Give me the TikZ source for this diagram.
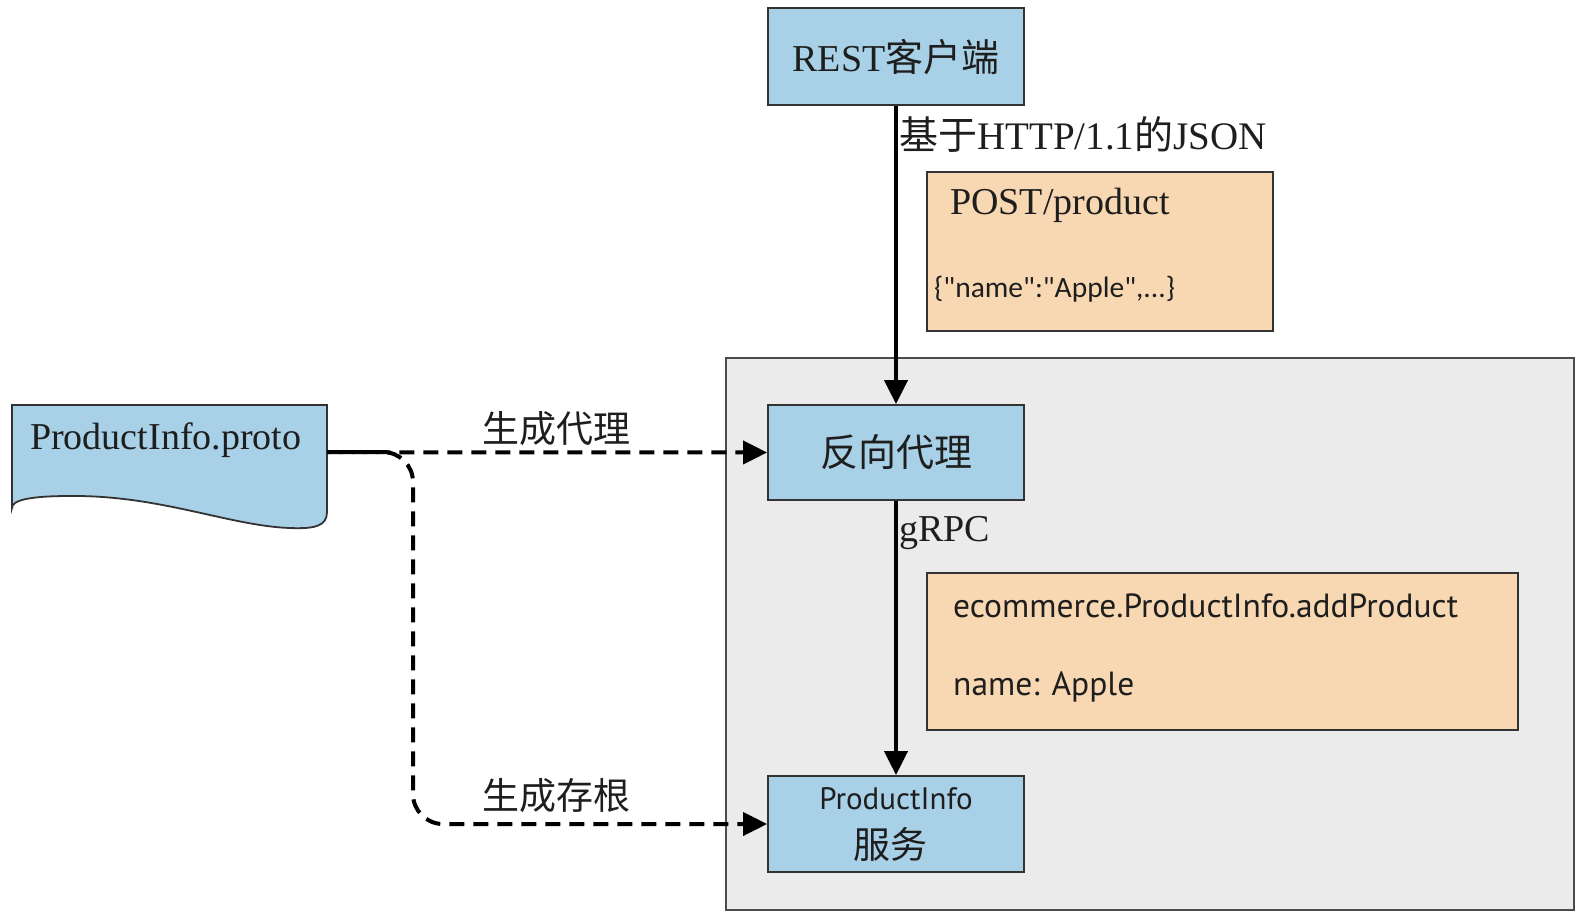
\documentclass[tikz,border=0pt]{standalone}
\usepackage{fontspec}
\setmainfont{Liberation Serif}
\newfontfamily\cjk{Noto Sans CJK SC}
\newfontfamily\sansf{PT Sans}
\newfontfamily\sansc{Carlito}
\usetikzlibrary{arrows.meta}
\definecolor{boxblue}{RGB}{168,208,230}
\definecolor{boxorange}{RGB}{248,216,178}
\definecolor{panelgray}{RGB}{235,235,235}
\definecolor{txt}{RGB}{30,30,30}
\tikzset{
  bluebox/.style={draw=black!80, line width=1.8pt, fill=boxblue, minimum width=256pt, minimum height=96pt, inner sep=0pt, text=txt},
  orangebox/.style={draw=black!80, line width=1.8pt, fill=boxorange, inner sep=0pt},
  bigtxt/.style={font=\fontsize{38}{44}\selectfont, text=txt, inner sep=0pt},
  sanstxt/.style={font=\sansf\fontsize{33.5}{38}\selectfont, text=txt, inner sep=0pt},
  arr/.style={line width=4pt, -{Triangle[length=24pt,width=23pt]}},
  dsh/.style={line width=4pt, dash pattern=on 15pt off 9pt, -{Triangle[length=24pt,width=23pt]}}
}
\begin{document}
\begin{tikzpicture}[x=1pt,y=-1pt]
\useasboundingbox (0,0) rectangle (1579,919);
% gray panel
\node[draw=black!70, line width=2pt, fill=panelgray, minimum width=848pt, minimum height=552pt, anchor=north west, inner sep=0pt] (panel) at (725,357) {};
% orange boxes
\node[orangebox, minimum width=346pt, minimum height=159pt, anchor=north west] (post) at (926,171) {};
\node[bigtxt, anchor=west] (postt) at (950,205) {POST/product};
\node[text=txt, inner sep=0pt, font=\sansc\fontsize{29.5}{34}\selectfont, anchor=west] (jsont) at (934,289) {\{\char"22 name\char"22 :\char"22 Apple\char"22 ,...\}};
\node[orangebox, minimum width=591pt, minimum height=157pt, anchor=north west] (ecom) at (926,572) {};
\node[sanstxt, anchor=west] (ecomt) at (953,606) {ecommerce.ProductInfo.addProduct};
\node[sanstxt, anchor=west] (namet) at (953,687) {name: Apple};
% blue boxes
\node[bluebox, minimum height=97pt] (rest) at (896,56.5) {\fontsize{38}{44}\selectfont REST{\cjk 客户端}};
\node[bluebox, minimum height=95pt] (proxy) at (896,452.5) {\fontsize{38}{44}\selectfont\cjk 反向代理};
\node[bluebox] (svc) at (896,824) {};
\node[text=txt, inner sep=0pt, font=\sansf\fontsize{31}{34}\selectfont] (svct1) at (896,799) {ProductInfo};
\node[text=txt, inner sep=0pt, font=\cjk\fontsize{37}{40}\selectfont] (svct2) at (890,844) {服务};
% proto document
\fill[boxblue, draw=black!80, line width=1.8pt] (12,405) -- (327,405) -- (327,512)
  .. controls (327,526) and (315,529) .. (290,528)
  .. controls (230,526) and (160,495) .. (70,496)
  .. controls (30,496) and (12,500) .. (12,508) -- cycle;
\node[minimum width=315pt, minimum height=94pt, anchor=north west, inner sep=0pt] (proto) at (12,405) {};
\node[bigtxt, anchor=west] (protot) at (30,440) {ProductInfo.proto};
% connectors
\draw[arr] (rest.south) -- (proxy.north);
\draw[arr] (proxy.south) -- (svc.north);
\coordinate (bend1) at (413,452);
\coordinate (bend2) at (413,824);
\draw[dsh] (proto.east) -- (proxy.west);
\draw[dsh, dash phase=12pt, rounded corners=30pt] (proto.east) -- (bend1) -- (bend2) -- (svc.west);
% labels
\node[bigtxt, font=\fontsize{39}{44}\selectfont, anchor=west] (httpl) at (899,134) {{\cjk 基于}HTTP/1.1{\cjk 的}JSON};
\node[bigtxt, anchor=west] (grpcl) at (899,533) {gRPC};
\node[bigtxt, font=\cjk\fontsize{37}{40}\selectfont] (genproxy) at (556,429) {生成代理};
\node[bigtxt, font=\cjk\fontsize{37}{40}\selectfont] (genstub) at (556,796) {生成存根};
\end{tikzpicture}
\end{document}
